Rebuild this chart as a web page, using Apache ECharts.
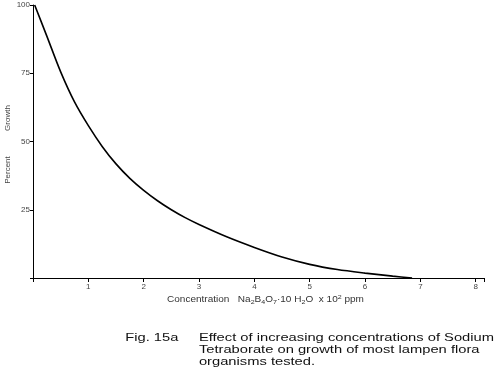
<!DOCTYPE html>
<html><head><meta charset="utf-8">
<script src="https://cdn.jsdelivr.net/npm/echarts@6/dist/echarts.min.js"></script>
<style>html,body{margin:0;padding:0;background:#fff}#c{width:500px;height:378px}</style>
</head><body><div id="c"></div>
<script>
const concentration = [0.03, 0.25, 0.5, 0.75, 1.0, 1.25, 1.5, 1.75, 2.0, 2.25, 2.5, 2.75, 3.0, 3.5, 4.0, 4.5, 5.0, 5.5, 6.0, 6.5, 6.85];
const growth = [100, 88.6, 75.5, 64.5, 55.8, 48.2, 41.8, 36.5, 32.1, 28.3, 25.0, 22.1, 19.6, 15.1, 11.2, 7.7, 5.0, 3.1, 1.8, 0.7, 0];
const xTicks = [1, 2, 3, 4, 5, 6, 7, 8];
const yTicks = ['25', '50', '75', '100'];
const figLabel = 'Fig. 15a';
const captionLines = ['Effect of increasing concentrations of Sodium', 'Tetraborate on growth of most lampen flora', 'organisms tested.'];

const font = 'Liberation Sans, Arial, sans-serif';
const capSize = 11.5, capScale = 1.28, capRight = 494;
const ctx = document.createElement('canvas').getContext('2d');
ctx.font = capSize + 'px ' + font;
const w1 = ctx.measureText(captionLines[0]).width * capScale;
const capX = capRight - w1;
const figX = capX - (ctx.measureText(figLabel).width + 16) * capScale;

const chart = echarts.init(document.getElementById('c'), null, {renderer: 'canvas'});
const capStyle = t => ({text: t, font: capSize + 'px ' + font, fill: '#111'});
chart.setOption({
  animation: false,
  grid: {left: 33, right: 16, top: 5, bottom: 100, containLabel: false},
  xAxis: {
    type: 'value', min: 0, max: 8.15, interval: 1,
    axisLine: {lineStyle: {color: '#000', width: 1}},
    axisTick: {show: true, length: 4, lineStyle: {color: '#000'}},
    splitLine: {show: false},
    axisLabel: {fontSize: 8, color: '#444', fontFamily: font, margin: 5,
      formatter: v => xTicks.includes(v) ? String(v) : ''}
  },
  yAxis: {
    type: 'value', min: 0, max: 100, interval: 25,
    axisLine: {show: true, lineStyle: {color: '#000', width: 1}},
    axisTick: {show: true, length: 3, lineStyle: {color: '#000'}},
    splitLine: {show: false},
    axisLabel: {fontSize: 8, color: '#444', fontFamily: font, margin: 3,
      formatter: v => yTicks.includes(String(v)) ? String(v) : ''}
  },
  series: [{
    type: 'line', smooth: 0.3, symbol: 'none',
    lineStyle: {color: '#000', width: 1.6},
    data: concentration.map((x, i) => [x, growth[i]])
  }],
  graphic: [
    {type: 'text', x: 8, y: 118, rotation: Math.PI / 2,
      style: {text: 'Growth', font: '8px ' + font, fill: '#444', align: 'center', verticalAlign: 'middle'}},
    {type: 'text', x: 8, y: 170, rotation: Math.PI / 2,
      style: {text: 'Percent', font: '8px ' + font, fill: '#444', align: 'center', verticalAlign: 'middle'}},
    {type: 'text', x: 167, y: 294, scaleX: 1.18,
      style: {
        text: 'Concentration   Na{s|2}B{s|4}O{s|7}·10 H{s|2}O  x 10{p|2} ppm',
        font: '8.5px ' + font, fill: '#333',
        rich: {s: {fontSize: 6, padding: [5, 0, 0, 0], fill: '#333'}, p: {fontSize: 6, padding: [0, 0, 5, 0], fill: '#333'}}
      }},
    {type: 'text', x: figX, y: 332, scaleX: capScale, style: capStyle(figLabel)},
    {type: 'text', x: capX, y: 332, scaleX: capScale, style: capStyle(captionLines[0])},
    {type: 'text', x: capX, y: 344, scaleX: capScale, style: capStyle(captionLines[1])},
    {type: 'text', x: capX, y: 356, scaleX: capScale, style: capStyle(captionLines[2])}
  ]
});
</script></body></html>
